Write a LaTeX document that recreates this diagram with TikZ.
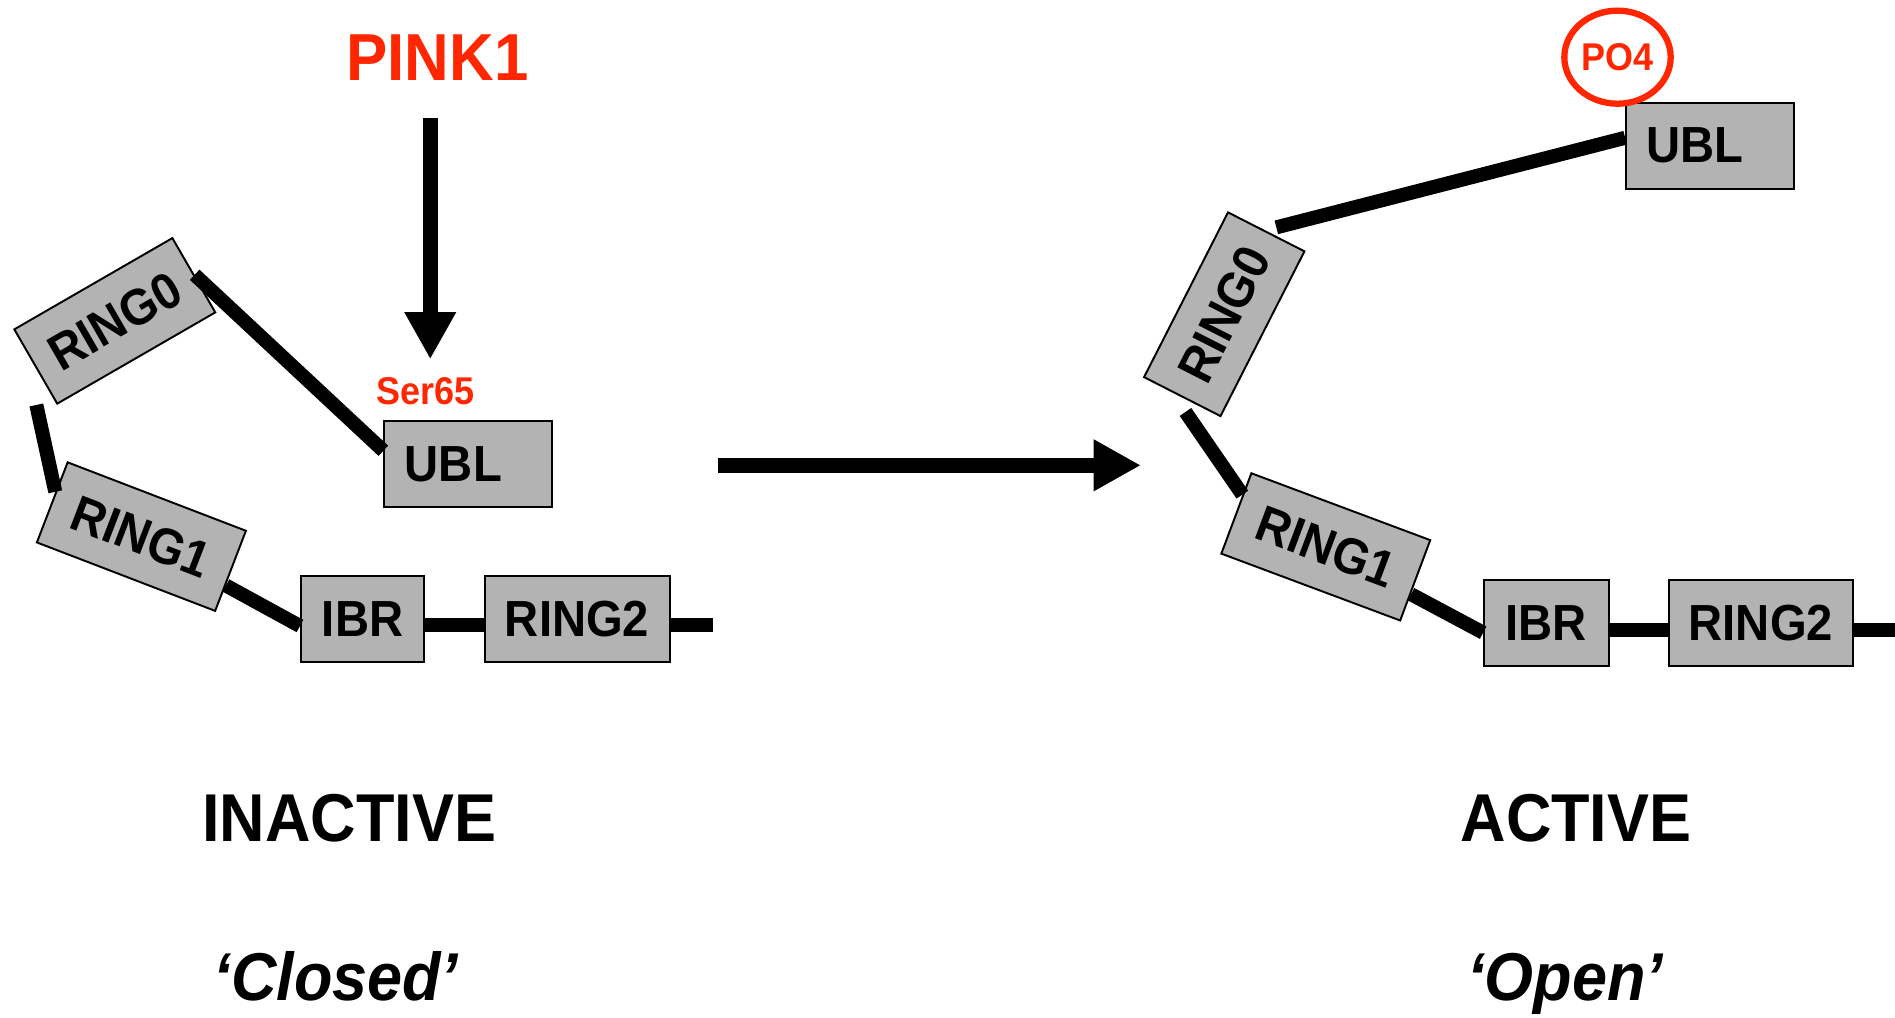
\documentclass[tikz,border=0pt]{standalone}
\usepackage{fontspec}
\setmainfont{Liberation Sans}[FakeStretch=0.93]
\usetikzlibrary{arrows.meta,calc,shapes.geometric}
\definecolor{pinkred}{RGB}{255,38,0}
\definecolor{boxgray}{RGB}{179,179,179}
\begin{document}
\begin{tikzpicture}[x=0.5pt,y=-0.5pt,
  dom/.style={draw=black,line width=0.8pt,fill=boxgray,minimum height=35.5pt,inner sep=0pt,
    font=\fontsize{21}{21}\selectfont\bfseries},
  ubldom/.style={dom,inner xsep=8.5pt,text width=52.5pt,align=left},
  link/.style={line width=5.8pt},
  bigarrow/.style={line width=6.2pt,-{Triangle[length=19.5pt,width=20pt]}},
  redlabel/.style={text=pinkred,inner sep=0pt,anchor=base},
  statelabel/.style={inner sep=0pt,anchor=base,font=\fontsize{28}{28}\selectfont\bfseries},
]
\useasboundingbox (0,0) rectangle (1568,842);

% ---------- inactive (left) ----------
\node[dom,minimum width=75.5pt,rotate=30] (r0a) at (95,265.5) {RING0};
\node[dom,minimum width=79pt,rotate=-21] (r1a) at (117,444) {RING1};
\node[dom,minimum width=51pt] (ibra) at (300,512) {IBR};
\node[dom,minimum width=76.5pt] (r2a) at (477.5,512) {RING2};
\node[ubldom] (ubla) at (387.5,384) {UBL};

\node[redlabel,font=\fontsize{27.5}{27.5}\selectfont\bfseries] (pink) at (362,67) {PINK1};
\node[redlabel,font=\fontsize{16}{16}\selectfont\bfseries] (ser) at (352,335) {Ser65};
\draw[bigarrow] ([xshift=-3pt,yshift=-15pt]pink.south) -- ([xshift=2pt,yshift=7.5pt]ser.north);

\draw[link] (r0a.east) -- ([yshift=5.5pt]ubla.west);
\draw[link] ($(r0a.south west)+(-17,0)$) -- ($(r1a.west)!0.25!(r1a.north west)$);
\draw[link] ($(r1a.east)!0.35!(r1a.south east)$) -- ([yshift=-3pt]ibra.west);
\draw[link] ([yshift=-2.5pt]ibra.east) -- ([yshift=-2.5pt]r2a.west);
\coordinate (enda) at (590,517);
\draw[link] ([yshift=-2.5pt]r2a.east) -- (enda);

\node[statelabel] (inact) at (289,696.5) {INACTIVE};
\node[statelabel,font=\fontsize{28}{28}\selectfont\bfseries\itshape] (closed) at (278,828) {‘Closed’};

% ---------- transition arrow ----------
\coordinate (mstart) at (594,385);
\coordinate (mtip) at (944,385);
\draw[bigarrow] (mstart) -- (mtip);

% ---------- active (right) ----------
\node[dom,minimum width=76.5pt,rotate=63] (r0b) at (1013,260) {RING0};
\node[dom,minimum width=79pt,rotate=-20.5] (r1b) at (1097,452.5) {RING1};
\node[dom,minimum width=51.5pt] (ibrb) at (1279.5,515.5) {IBR};
\node[dom,minimum width=76pt] (r2b) at (1457,515.5) {RING2};
\node[ubldom] (ublb) at (1415,120.5) {UBL};
\node[ellipse,draw=pinkred,line width=2.6pt,minimum width=44pt,minimum height=38.5pt,inner sep=0pt,
  text=pinkred,font=\fontsize{16}{16}\selectfont\bfseries] (po4) at (1338.4,47.3) {PO4};

\draw[link] ($(r0b.east)+(8,-3)$) -- ([yshift=3.25pt]ublb.west);
\draw[link] ($(r0b.west)+(3,12)$) -- ($(r1b.west)!0.45!(r1b.north west)$);
\draw[link] ($(r1b.east)!0.33!(r1b.south east)$) -- ([yshift=-4pt]ibrb.west);
\draw[link] ([yshift=-2.75pt]ibrb.east) -- ([yshift=-2.75pt]r2b.west);
\coordinate (endb) at (1568,521);
\draw[link] ([yshift=-2.75pt]r2b.east) -- (endb);

\node[statelabel] (act) at (1304,696.5) {ACTIVE};
\node[statelabel,font=\fontsize{28}{28}\selectfont\bfseries\itshape] (open) at (1295,828) {‘Open’};
\end{tikzpicture}
\end{document}
